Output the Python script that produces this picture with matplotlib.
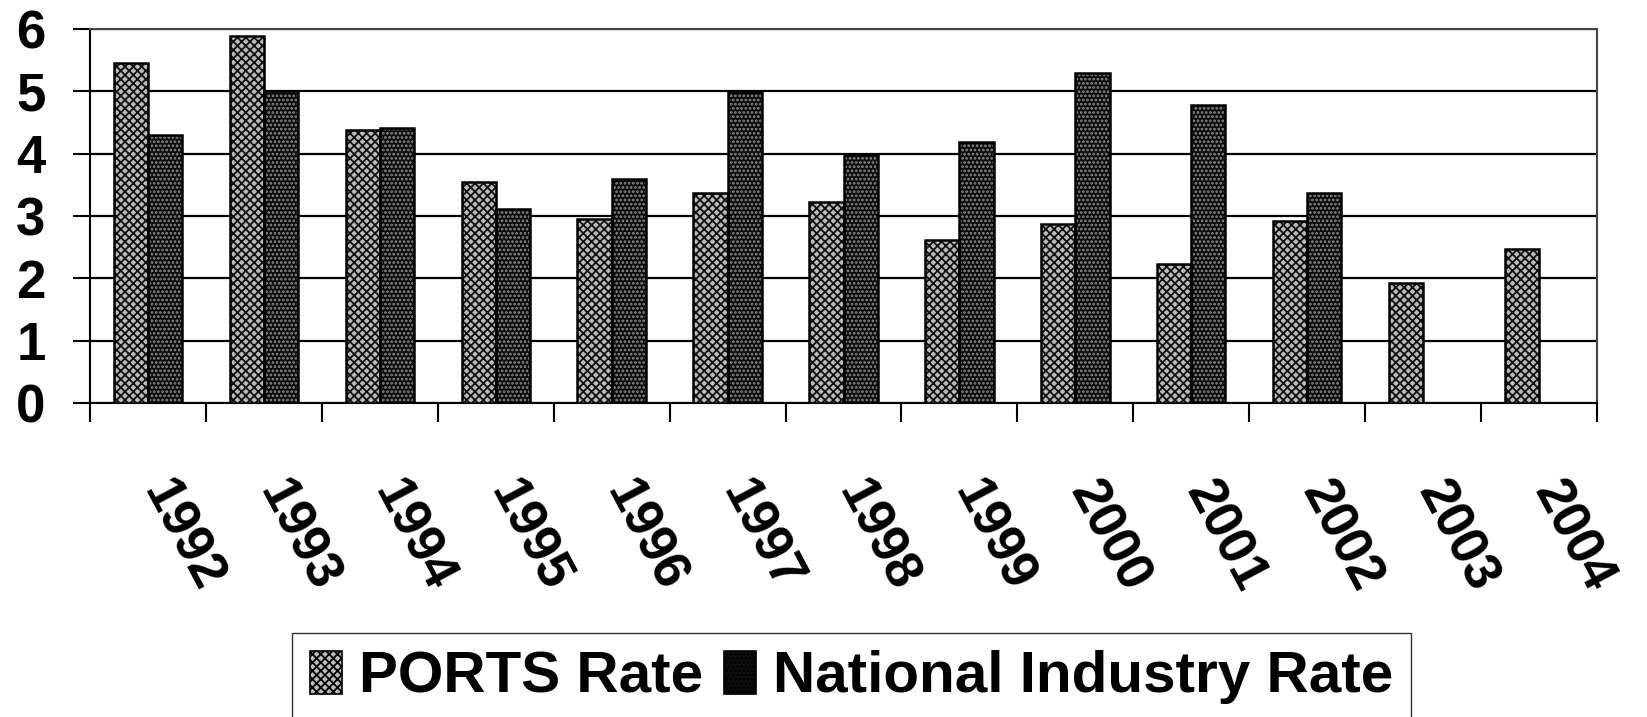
# Injury rate by year: PORTS vs national industry (grayscale bar chart)
import matplotlib.pyplot as plt
import matplotlib.transforms as mtransforms
from matplotlib.patches import Patch

# Data
years = ['1992', '1993', '1994', '1995', '1996', '1997', '1998',
         '1999', '2000', '2001', '2002', '2003', '2004']
ports_rate = [5.45, 5.88, 4.38, 3.55, 2.95, 3.37, 3.23, 2.62, 2.87, 2.23, 2.92, 1.93, 2.47]
national_rate = [4.30, 5.00, 4.41, 3.11, 3.59, 4.99, 3.98, 4.18, 5.30, 4.78, 3.37, None, None]

plt.rcParams['font.family'] = ['Liberation Sans', 'DejaVu Sans']
plt.rcParams['hatch.linewidth'] = 1.3

fig = plt.figure(figsize=(16.47, 7.17), dpi=100)
ax = fig.add_axes([90 / 1647, 1 - 403 / 717, (1597 - 90) / 1647, (403 - 29) / 717])

x = list(range(len(years)))
w = 0.295
ports_style = dict(facecolor='#bababa', edgecolor='#111111', hatch='xxxx')
nat_style = dict(facecolor='#0c0c0c', edgecolor='#8c8c8c', hatch='....')

px = [i - w / 2 for i in x]
nx = [i + w / 2 for i in x if national_rate[i] is not None]
nv = [v for v in national_rate if v is not None]

ax.bar(px, ports_rate, w, linewidth=0, zorder=3, **ports_style)
ax.bar(px, ports_rate, w, fill=False, edgecolor='black', linewidth=1.8, zorder=4)
ax.bar(nx, nv, w, linewidth=0, zorder=3, **nat_style)
ax.bar(nx, nv, w, fill=False, edgecolor='black', linewidth=1.8, zorder=4)

ax.set_xlim(-0.5, len(years) - 0.5)
ax.set_ylim(0, 6)
ax.set_yticks(range(7))
ax.set_yticklabels([str(v) for v in range(7)], fontsize=38, fontweight='bold')
ax.tick_params(axis='y', length=12, width=1.5, pad=20)

# category labels at centres, tick marks at boundaries
ax.set_xticks(x)
ax.set_xticklabels(years, fontsize=38, fontweight='bold', rotation=-62,
                   ha='left', va='top', rotation_mode='default')
ax.tick_params(axis='x', which='major', length=0, pad=50)
shift = mtransforms.ScaledTranslation(-16 / 100, 0, fig.dpi_scale_trans)
for lbl in ax.get_xticklabels():
    lbl.set_transform(lbl.get_transform() + shift)
ax.set_xticks([i - 0.5 for i in range(len(years) + 1)], minor=True)
ax.tick_params(axis='x', which='minor', length=14, width=1.5)

ax.grid(axis='y', color='black', linewidth=1.6, zorder=0)
for s in ax.spines.values():
    s.set_linewidth(1.5)
ax.spines['top'].set_color('#444444')
ax.spines['right'].set_color('#444444')

handles = [Patch(linewidth=1.2, **ports_style), Patch(linewidth=1.2, **nat_style)]
for h in handles:
    h.set_edgecolor('black')
fig.legend(handles, ['PORTS Rate', 'National Industry Rate'], ncol=2,
           loc='upper left', bbox_to_anchor=(292 / 1647, 1 - 633 / 717),
           prop={'size': 42, 'weight': 'bold'}, frameon=True, fancybox=False,
           edgecolor='black', handlelength=0.55, handleheight=0.75,
           handletextpad=0.3, columnspacing=0.35, borderpad=0.3,
           borderaxespad=0)

fig.savefig('out.png', dpi=100)
